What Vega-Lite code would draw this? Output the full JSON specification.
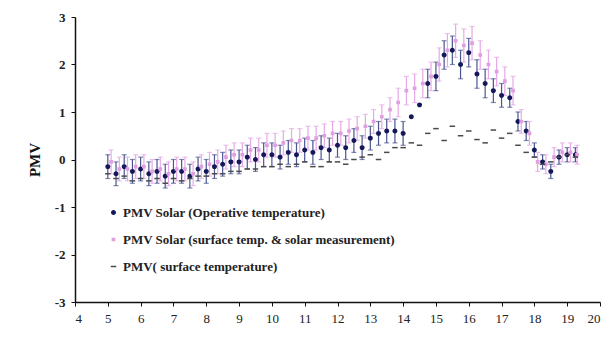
{
  "$schema": "https://vega.github.io/schema/vega-lite/v6.json",
  "width": 525,
  "height": 285,
  "autosize": "none",
  "padding": {"left": 75, "top": 17, "right": 14, "bottom": 36},
  "background": "white",
  "config": {
    "view": {"stroke": null},
    "axis": {"grid": false, "domainColor": "#111", "domainWidth": 1.5, "tickColor": "#111", "tickSize": 4, "labelFont": "Liberation Serif", "labelFontSize": 12, "labelColor": "#222"}
  },
  "datasets": {
    "pts": [
      {"h":5.0,"s":"PMV Solar (Operative temperature)","v":-0.15,"e":0.25},
      {"h":5.25,"s":"PMV Solar (Operative temperature)","v":-0.3,"e":0.25},
      {"h":5.5,"s":"PMV Solar (Operative temperature)","v":-0.15,"e":0.25},
      {"h":5.75,"s":"PMV Solar (Operative temperature)","v":-0.25,"e":0.25},
      {"h":6.0,"s":"PMV Solar (Operative temperature)","v":-0.2,"e":0.25},
      {"h":6.25,"s":"PMV Solar (Operative temperature)","v":-0.3,"e":0.25},
      {"h":6.5,"s":"PMV Solar (Operative temperature)","v":-0.25,"e":0.25},
      {"h":6.75,"s":"PMV Solar (Operative temperature)","v":-0.35,"e":0.25},
      {"h":7.0,"s":"PMV Solar (Operative temperature)","v":-0.25,"e":0.25},
      {"h":7.25,"s":"PMV Solar (Operative temperature)","v":-0.25,"e":0.25},
      {"h":7.5,"s":"PMV Solar (Operative temperature)","v":-0.35,"e":0.25},
      {"h":7.75,"s":"PMV Solar (Operative temperature)","v":-0.2,"e":0.25},
      {"h":8.0,"s":"PMV Solar (Operative temperature)","v":-0.25,"e":0.25},
      {"h":8.25,"s":"PMV Solar (Operative temperature)","v":-0.15,"e":0.25},
      {"h":8.5,"s":"PMV Solar (Operative temperature)","v":-0.1,"e":0.25},
      {"h":8.75,"s":"PMV Solar (Operative temperature)","v":-0.05,"e":0.25},
      {"h":9.0,"s":"PMV Solar (Operative temperature)","v":-0.05,"e":0.25},
      {"h":9.25,"s":"PMV Solar (Operative temperature)","v":0.05,"e":0.25},
      {"h":9.5,"s":"PMV Solar (Operative temperature)","v":0.0,"e":0.25},
      {"h":9.75,"s":"PMV Solar (Operative temperature)","v":0.1,"e":0.25},
      {"h":10.0,"s":"PMV Solar (Operative temperature)","v":0.1,"e":0.25},
      {"h":10.25,"s":"PMV Solar (Operative temperature)","v":0.05,"e":0.25},
      {"h":10.5,"s":"PMV Solar (Operative temperature)","v":0.15,"e":0.25},
      {"h":10.75,"s":"PMV Solar (Operative temperature)","v":0.1,"e":0.25},
      {"h":11.0,"s":"PMV Solar (Operative temperature)","v":0.2,"e":0.25},
      {"h":11.25,"s":"PMV Solar (Operative temperature)","v":0.15,"e":0.25},
      {"h":11.5,"s":"PMV Solar (Operative temperature)","v":0.25,"e":0.25},
      {"h":11.75,"s":"PMV Solar (Operative temperature)","v":0.2,"e":0.25},
      {"h":12.0,"s":"PMV Solar (Operative temperature)","v":0.3,"e":0.25},
      {"h":12.25,"s":"PMV Solar (Operative temperature)","v":0.25,"e":0.25},
      {"h":12.5,"s":"PMV Solar (Operative temperature)","v":0.4,"e":0.25},
      {"h":12.75,"s":"PMV Solar (Operative temperature)","v":0.25,"e":0.25},
      {"h":13.0,"s":"PMV Solar (Operative temperature)","v":0.45,"e":0.25},
      {"h":13.25,"s":"PMV Solar (Operative temperature)","v":0.55,"e":0.25},
      {"h":13.5,"s":"PMV Solar (Operative temperature)","v":0.6,"e":0.25},
      {"h":13.75,"s":"PMV Solar (Operative temperature)","v":0.6,"e":0.25},
      {"h":14.0,"s":"PMV Solar (Operative temperature)","v":0.55,"e":0.25},
      {"h":14.25,"s":"PMV Solar (Operative temperature)","v":0.9,"e":0.0},
      {"h":14.5,"s":"PMV Solar (Operative temperature)","v":1.15,"e":0.0},
      {"h":14.75,"s":"PMV Solar (Operative temperature)","v":1.6,"e":0.3},
      {"h":15.0,"s":"PMV Solar (Operative temperature)","v":1.75,"e":0.3},
      {"h":15.25,"s":"PMV Solar (Operative temperature)","v":2.2,"e":0.3},
      {"h":15.5,"s":"PMV Solar (Operative temperature)","v":2.3,"e":0.3},
      {"h":15.75,"s":"PMV Solar (Operative temperature)","v":2.0,"e":0.3},
      {"h":16.0,"s":"PMV Solar (Operative temperature)","v":2.25,"e":0.3},
      {"h":16.25,"s":"PMV Solar (Operative temperature)","v":1.8,"e":0.3},
      {"h":16.5,"s":"PMV Solar (Operative temperature)","v":1.6,"e":0.3},
      {"h":16.75,"s":"PMV Solar (Operative temperature)","v":1.45,"e":0.25},
      {"h":17.0,"s":"PMV Solar (Operative temperature)","v":1.35,"e":0.25},
      {"h":17.25,"s":"PMV Solar (Operative temperature)","v":1.3,"e":0.2},
      {"h":17.5,"s":"PMV Solar (Operative temperature)","v":0.8,"e":0.2},
      {"h":17.75,"s":"PMV Solar (Operative temperature)","v":0.6,"e":0.2},
      {"h":18.0,"s":"PMV Solar (Operative temperature)","v":0.2,"e":0.15},
      {"h":18.25,"s":"PMV Solar (Operative temperature)","v":-0.05,"e":0.15},
      {"h":18.5,"s":"PMV Solar (Operative temperature)","v":-0.25,"e":0.15},
      {"h":18.75,"s":"PMV Solar (Operative temperature)","v":0.05,"e":0.15},
      {"h":19.0,"s":"PMV Solar (Operative temperature)","v":0.1,"e":0.15},
      {"h":19.25,"s":"PMV Solar (Operative temperature)","v":0.1,"e":0.15},

      {"h":5.1,"s":"PMV Solar (surface temp. & solar measurement)","v":-0.05,"e":0.25},
      {"h":5.35,"s":"PMV Solar (surface temp. & solar measurement)","v":-0.2,"e":0.25},
      {"h":5.6,"s":"PMV Solar (surface temp. & solar measurement)","v":-0.2,"e":0.25},
      {"h":5.85,"s":"PMV Solar (surface temp. & solar measurement)","v":-0.15,"e":0.25},
      {"h":6.1,"s":"PMV Solar (surface temp. & solar measurement)","v":-0.15,"e":0.25},
      {"h":6.35,"s":"PMV Solar (surface temp. & solar measurement)","v":-0.25,"e":0.25},
      {"h":6.6,"s":"PMV Solar (surface temp. & solar measurement)","v":-0.2,"e":0.25},
      {"h":6.85,"s":"PMV Solar (surface temp. & solar measurement)","v":-0.3,"e":0.25},
      {"h":7.1,"s":"PMV Solar (surface temp. & solar measurement)","v":-0.2,"e":0.25},
      {"h":7.35,"s":"PMV Solar (surface temp. & solar measurement)","v":-0.2,"e":0.25},
      {"h":7.6,"s":"PMV Solar (surface temp. & solar measurement)","v":-0.3,"e":0.25},
      {"h":7.85,"s":"PMV Solar (surface temp. & solar measurement)","v":-0.15,"e":0.25},
      {"h":8.1,"s":"PMV Solar (surface temp. & solar measurement)","v":-0.1,"e":0.25},
      {"h":8.35,"s":"PMV Solar (surface temp. & solar measurement)","v":-0.05,"e":0.25},
      {"h":8.6,"s":"PMV Solar (surface temp. & solar measurement)","v":0.05,"e":0.25},
      {"h":8.85,"s":"PMV Solar (surface temp. & solar measurement)","v":0.1,"e":0.25},
      {"h":9.1,"s":"PMV Solar (surface temp. & solar measurement)","v":0.1,"e":0.25},
      {"h":9.35,"s":"PMV Solar (surface temp. & solar measurement)","v":0.2,"e":0.25},
      {"h":9.6,"s":"PMV Solar (surface temp. & solar measurement)","v":0.2,"e":0.25},
      {"h":9.85,"s":"PMV Solar (surface temp. & solar measurement)","v":0.3,"e":0.25},
      {"h":10.1,"s":"PMV Solar (surface temp. & solar measurement)","v":0.3,"e":0.25},
      {"h":10.35,"s":"PMV Solar (surface temp. & solar measurement)","v":0.35,"e":0.25},
      {"h":10.6,"s":"PMV Solar (surface temp. & solar measurement)","v":0.4,"e":0.25},
      {"h":10.85,"s":"PMV Solar (surface temp. & solar measurement)","v":0.4,"e":0.25},
      {"h":11.1,"s":"PMV Solar (surface temp. & solar measurement)","v":0.45,"e":0.25},
      {"h":11.35,"s":"PMV Solar (surface temp. & solar measurement)","v":0.45,"e":0.25},
      {"h":11.6,"s":"PMV Solar (surface temp. & solar measurement)","v":0.5,"e":0.25},
      {"h":11.85,"s":"PMV Solar (surface temp. & solar measurement)","v":0.55,"e":0.25},
      {"h":12.1,"s":"PMV Solar (surface temp. & solar measurement)","v":0.55,"e":0.25},
      {"h":12.35,"s":"PMV Solar (surface temp. & solar measurement)","v":0.6,"e":0.25},
      {"h":12.6,"s":"PMV Solar (surface temp. & solar measurement)","v":0.65,"e":0.25},
      {"h":12.85,"s":"PMV Solar (surface temp. & solar measurement)","v":0.7,"e":0.25},
      {"h":13.1,"s":"PMV Solar (surface temp. & solar measurement)","v":0.8,"e":0.25},
      {"h":13.35,"s":"PMV Solar (surface temp. & solar measurement)","v":0.9,"e":0.25},
      {"h":13.6,"s":"PMV Solar (surface temp. & solar measurement)","v":1.05,"e":0.25},
      {"h":13.85,"s":"PMV Solar (surface temp. & solar measurement)","v":1.2,"e":0.3},
      {"h":14.1,"s":"PMV Solar (surface temp. & solar measurement)","v":1.45,"e":0.3},
      {"h":14.35,"s":"PMV Solar (surface temp. & solar measurement)","v":1.5,"e":0.3},
      {"h":14.6,"s":"PMV Solar (surface temp. & solar measurement)","v":1.6,"e":0.3},
      {"h":14.85,"s":"PMV Solar (surface temp. & solar measurement)","v":1.75,"e":0.3},
      {"h":15.1,"s":"PMV Solar (surface temp. & solar measurement)","v":2.0,"e":0.35},
      {"h":15.35,"s":"PMV Solar (surface temp. & solar measurement)","v":2.3,"e":0.35},
      {"h":15.6,"s":"PMV Solar (surface temp. & solar measurement)","v":2.5,"e":0.35},
      {"h":15.85,"s":"PMV Solar (surface temp. & solar measurement)","v":2.4,"e":0.35},
      {"h":16.1,"s":"PMV Solar (surface temp. & solar measurement)","v":2.45,"e":0.35},
      {"h":16.35,"s":"PMV Solar (surface temp. & solar measurement)","v":2.2,"e":0.3},
      {"h":16.6,"s":"PMV Solar (surface temp. & solar measurement)","v":2.0,"e":0.3},
      {"h":16.85,"s":"PMV Solar (surface temp. & solar measurement)","v":1.85,"e":0.3},
      {"h":17.1,"s":"PMV Solar (surface temp. & solar measurement)","v":1.65,"e":0.3},
      {"h":17.35,"s":"PMV Solar (surface temp. & solar measurement)","v":1.45,"e":0.3},
      {"h":17.6,"s":"PMV Solar (surface temp. & solar measurement)","v":0.8,"e":0.25},
      {"h":17.85,"s":"PMV Solar (surface temp. & solar measurement)","v":0.55,"e":0.25},
      {"h":18.1,"s":"PMV Solar (surface temp. & solar measurement)","v":-0.05,"e":0.2},
      {"h":18.35,"s":"PMV Solar (surface temp. & solar measurement)","v":-0.1,"e":0.2},
      {"h":18.6,"s":"PMV Solar (surface temp. & solar measurement)","v":0.05,"e":0.2},
      {"h":18.85,"s":"PMV Solar (surface temp. & solar measurement)","v":0.15,"e":0.2},
      {"h":19.1,"s":"PMV Solar (surface temp. & solar measurement)","v":0.15,"e":0.2},
      {"h":19.3,"s":"PMV Solar (surface temp. & solar measurement)","v":0.1,"e":0.2},

      {"h":5.0,"s":"PMV( surface temperature)","v":-0.3},
      {"h":5.25,"s":"PMV( surface temperature)","v":-0.4},
      {"h":5.5,"s":"PMV( surface temperature)","v":-0.35},
      {"h":5.75,"s":"PMV( surface temperature)","v":-0.45},
      {"h":6.0,"s":"PMV( surface temperature)","v":-0.4},
      {"h":6.25,"s":"PMV( surface temperature)","v":-0.45},
      {"h":6.5,"s":"PMV( surface temperature)","v":-0.4},
      {"h":6.75,"s":"PMV( surface temperature)","v":-0.5},
      {"h":7.0,"s":"PMV( surface temperature)","v":-0.4},
      {"h":7.25,"s":"PMV( surface temperature)","v":-0.45},
      {"h":7.5,"s":"PMV( surface temperature)","v":-0.4},
      {"h":7.75,"s":"PMV( surface temperature)","v":-0.35},
      {"h":8.0,"s":"PMV( surface temperature)","v":-0.35},
      {"h":8.25,"s":"PMV( surface temperature)","v":-0.3},
      {"h":8.5,"s":"PMV( surface temperature)","v":-0.3},
      {"h":8.75,"s":"PMV( surface temperature)","v":-0.25},
      {"h":9.0,"s":"PMV( surface temperature)","v":-0.25},
      {"h":9.25,"s":"PMV( surface temperature)","v":-0.2},
      {"h":9.5,"s":"PMV( surface temperature)","v":-0.2},
      {"h":9.75,"s":"PMV( surface temperature)","v":-0.15},
      {"h":10.0,"s":"PMV( surface temperature)","v":-0.15},
      {"h":10.25,"s":"PMV( surface temperature)","v":-0.1},
      {"h":10.5,"s":"PMV( surface temperature)","v":-0.15},
      {"h":10.75,"s":"PMV( surface temperature)","v":-0.1},
      {"h":11.0,"s":"PMV( surface temperature)","v":-0.05},
      {"h":11.25,"s":"PMV( surface temperature)","v":-0.15},
      {"h":11.5,"s":"PMV( surface temperature)","v":-0.15},
      {"h":11.75,"s":"PMV( surface temperature)","v":-0.05},
      {"h":12.0,"s":"PMV( surface temperature)","v":-0.05},
      {"h":12.25,"s":"PMV( surface temperature)","v":-0.1},
      {"h":12.5,"s":"PMV( surface temperature)","v":0.0},
      {"h":12.75,"s":"PMV( surface temperature)","v":0.05},
      {"h":13.0,"s":"PMV( surface temperature)","v":0.1},
      {"h":13.25,"s":"PMV( surface temperature)","v":0.0},
      {"h":13.5,"s":"PMV( surface temperature)","v":0.15},
      {"h":13.75,"s":"PMV( surface temperature)","v":0.25},
      {"h":14.0,"s":"PMV( surface temperature)","v":0.25},
      {"h":14.25,"s":"PMV( surface temperature)","v":0.35},
      {"h":14.5,"s":"PMV( surface temperature)","v":0.3},
      {"h":14.75,"s":"PMV( surface temperature)","v":0.55},
      {"h":15.0,"s":"PMV( surface temperature)","v":0.65},
      {"h":15.25,"s":"PMV( surface temperature)","v":0.4},
      {"h":15.5,"s":"PMV( surface temperature)","v":0.7},
      {"h":15.75,"s":"PMV( surface temperature)","v":0.5},
      {"h":16.0,"s":"PMV( surface temperature)","v":0.6},
      {"h":16.25,"s":"PMV( surface temperature)","v":0.42},
      {"h":16.5,"s":"PMV( surface temperature)","v":0.35},
      {"h":16.75,"s":"PMV( surface temperature)","v":0.62},
      {"h":17.0,"s":"PMV( surface temperature)","v":0.45},
      {"h":17.25,"s":"PMV( surface temperature)","v":0.55},
      {"h":17.5,"s":"PMV( surface temperature)","v":0.3},
      {"h":17.75,"s":"PMV( surface temperature)","v":0.15},
      {"h":18.0,"s":"PMV( surface temperature)","v":0.05},
      {"h":18.25,"s":"PMV( surface temperature)","v":-0.1},
      {"h":18.5,"s":"PMV( surface temperature)","v":-0.05},
      {"h":18.75,"s":"PMV( surface temperature)","v":0.05},
      {"h":19.0,"s":"PMV( surface temperature)","v":0.1},
      {"h":19.25,"s":"PMV( surface temperature)","v":0.05}
    ]
  },
  "data": {"name": "pts"},
  "encoding": {
    "x": {"field": "h", "type": "quantitative", "scale": {"domain": [4, 20], "nice": false, "zero": false},
          "axis": {"title": null, "values": [4,5,6,7,8,9,10,11,12,13,14,15,16,17,18,19,20], "labelPadding": 6, "labelFontSize": 13}}
  },
  "layer": [
    {
      "transform": [{"filter": "datum.s != 'PMV( surface temperature)' && datum.e > 0"}],
      "mark": {"type": "errorbar", "ticks": {"size": 5, "thickness": 1.2}, "thickness": 1.2},
      "encoding": {
        "y": {"field": "v", "type": "quantitative", "scale": {"domain": [-3, 3], "nice": false},
              "axis": {"title": "PMV", "titleFont": "Liberation Serif", "titleFontSize": 15, "titleFontWeight": "bold", "titleColor": "#111", "titlePadding": 12,
                       "values": [-3,-2,-1,0,1,2,3], "labelExpr": "'' + datum.value", "labelFontWeight": "bold", "labelFontSize": 13, "labelPadding": 6}},
        "yError": {"field": "e"},
        "color": {"field": "s", "type": "nominal", "legend": null,
                  "scale": {"domain": ["PMV Solar (Operative temperature)", "PMV Solar (surface temp. & solar measurement)"], "range": ["#4a5590", "#e6a8e6"]}}
      }
    },
    {
      "mark": {"type": "point", "filled": true, "strokeWidth": 1.5, "opacity": 1},
      "encoding": {
        "y": {"field": "v", "type": "quantitative"},
        "fill": {"field": "s", "type": "nominal",
                 "scale": {"domain": ["PMV Solar (Operative temperature)", "PMV Solar (surface temp. & solar measurement)", "PMV( surface temperature)"], "range": ["#14185a", "#e0a0e0", "#4a4a4a"]},
                 "legend": {"title": null, "orient": "none", "legendX": 32, "legendY": 189, "labelFont": "Liberation Serif", "labelFontSize": 13, "labelFontWeight": "bold", "labelColor": "#222", "labelLimit": 0, "rowPadding": 13, "symbolStrokeWidth": 1.5, "labelOffset": 3}},
        "stroke": {"field": "s", "type": "nominal",
                   "scale": {"domain": ["PMV Solar (Operative temperature)", "PMV Solar (surface temp. & solar measurement)", "PMV( surface temperature)"], "range": ["#14185a", "#e0a0e0", "#4a4a4a"]}},
        "shape": {"field": "s", "type": "nominal",
                  "scale": {"domain": ["PMV Solar (Operative temperature)", "PMV Solar (surface temp. & solar measurement)", "PMV( surface temperature)"], "range": ["circle", "square", "stroke"]}},
        "size": {"field": "s", "type": "ordinal",
                 "scale": {"type": "ordinal", "domain": ["PMV Solar (Operative temperature)", "PMV Solar (surface temp. & solar measurement)", "PMV( surface temperature)"], "range": [12, 5, 30]}}
      }
    }
  ]
}
